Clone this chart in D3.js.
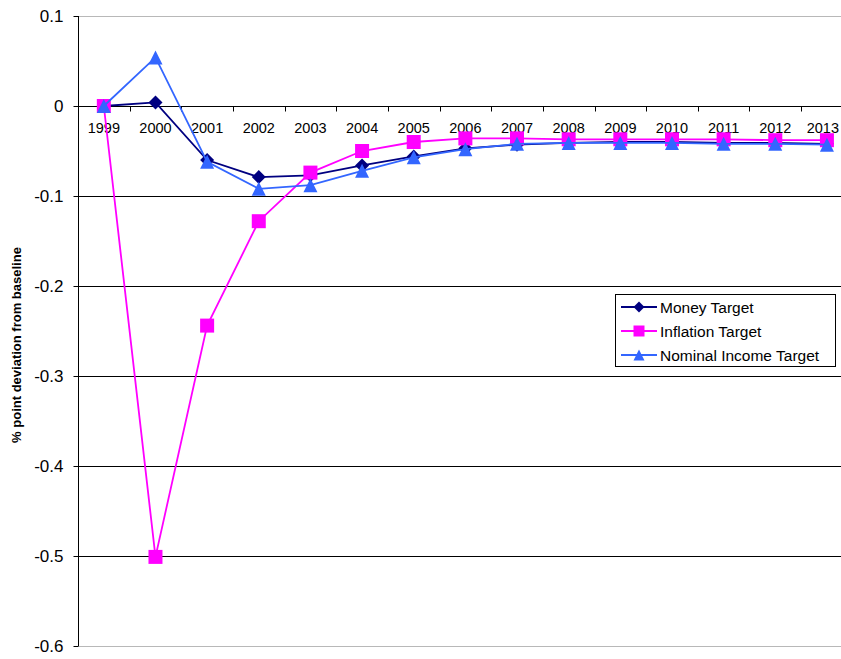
<!DOCTYPE html>
<html>
<head>
<meta charset="utf-8">
<script src="https://cdn.jsdelivr.net/npm/d3@7/dist/d3.min.js"></script>
<style>
  html, body { margin: 0; padding: 0; background: #fff; }
  svg { display: block; font-family: Arial, "Liberation Sans", sans-serif; }
</style>
</head>
<body>
<svg id="chart" width="841" height="659"></svg>
<script>
const years = ["1999","2000","2001","2002","2003","2004","2005","2006","2007","2008","2009","2010","2011","2012","2013"];
const moneyTarget = [0, 0.004, -0.060, -0.079, -0.077, -0.066, -0.056, -0.047, -0.043, -0.041, -0.040, -0.040, -0.041, -0.041, -0.042];
const inflationTarget = [0, -0.501, -0.244, -0.128, -0.074, -0.050, -0.040, -0.036, -0.036, -0.037, -0.037, -0.037, -0.037, -0.038, -0.038];
const nominalIncomeTarget = [0, 0.054, -0.062, -0.092, -0.088, -0.072, -0.057, -0.048, -0.042, -0.041, -0.041, -0.041, -0.042, -0.042, -0.043];
const yTicks = [0.1, 0, -0.1, -0.2, -0.3, -0.4, -0.5, -0.6];
const yTickLabels = ["0.1", "0", "-0.1", "-0.2", "-0.3", "-0.4", "-0.5", "-0.6"];
const seriesNames = ["Money Target", "Inflation Target", "Nominal Income Target"];
const yTitle = "% point deviation from baseline";

const series = [
  { name: seriesNames[0], values: moneyTarget, color: "#000080", marker: "diamond" },
  { name: seriesNames[1], values: inflationTarget, color: "#FF00FF", marker: "square" },
  { name: seriesNames[2], values: nominalIncomeTarget, color: "#3366FF", marker: "triangle" }
];

const W = 841;
const svg = d3.select("#chart");
const left = 78, bandW = 51.65;
const x = d3.scaleBand().domain(years).range([left, left + years.length * bandW]).padding(0);
const y = d3.scaleLinear().domain([-0.6, 0.1]).range([646, 16]);

// gridlines
svg.append("g").selectAll("line").data(yTicks.filter(v => v !== 0)).join("line")
  .attr("x1", left).attr("x2", W)
  .attr("y1", d => Math.round(y(d)) + 0.5).attr("y2", d => Math.round(y(d)) + 0.5)
  .attr("stroke", d => (d === 0.1 || d === -0.6) ? "#b8b8b8" : "#000")
  .attr("stroke-width", 1);

// y axis
const yAxis = d3.axisLeft(y).tickValues(yTicks).tickSize(5)
  .tickFormat((d, i) => yTickLabels[i]);
const gy = svg.append("g").attr("transform", `translate(${left + 0.5},0)`).call(yAxis);
gy.select(".domain").attr("d", `M0,${y(0.1)}V${y(-0.6)}`).attr("stroke", "#000");
gy.selectAll(".tick line").attr("stroke", "#000");
gy.selectAll(".tick text").attr("font-size", 17).attr("fill", "#000").attr("x", -15)
  .attr("font-family", "Arial, 'Liberation Sans', sans-serif");

// x axis at zero
const zeroY = Math.round(y(0)) + 0.5;
svg.append("line").attr("x1", left).attr("x2", W).attr("y1", zeroY).attr("y2", zeroY).attr("stroke", "#000");
svg.append("g").selectAll("line").data(years).join("line")
  .attr("x1", d => Math.round(x(d)) + 0.5).attr("x2", d => Math.round(x(d)) + 0.5)
  .attr("y1", zeroY).attr("y2", zeroY + 5).attr("stroke", "#000");
svg.append("g").selectAll("text").data(years).join("text")
  .attr("y", 133)
  .attr("font-size", 14.5).attr("fill", "#000")
  .text(d => d)
  .each(function(d) {
    const t = d3.select(this);
    const cx = x(d) + x.bandwidth() / 2;
    const w = this.getComputedTextLength();
    const xr = Math.min(cx + w / 2, W - 2);
    t.attr("x", xr).attr("text-anchor", "end");
  });

// y title
svg.append("text")
  .attr("transform", `translate(21,345) rotate(-90)`)
  .attr("text-anchor", "middle").attr("font-size", 13).attr("font-weight", "bold")
  .text(yTitle);

// marker paths
function markerPath(type, s) {
  if (type === "diamond") return `M0,${-s}L${s},0L0,${s}L${-s},0Z`;
  if (type === "square") return `M${-s},${-s}H${s}V${s}H${-s}Z`;
  return `M0,${-s}L${s},${s}L${-s},${s}Z`;
}
const markerSize = { diamond: 7, square: 7, triangle: 7 };

const line = d3.line().x((d, i) => x(years[i]) + x.bandwidth() / 2).y(d => y(d));
series.forEach(s => {
  const g = svg.append("g");
  g.append("path").datum(s.values).attr("d", line)
    .attr("fill", "none").attr("stroke", s.color).attr("stroke-width", 1.8);
  g.selectAll("path.m").data(s.values).join("path").attr("class", "m")
    .attr("transform", (d, i) => `translate(${x(years[i]) + x.bandwidth() / 2},${y(d)})`)
    .attr("d", markerPath(s.marker, markerSize[s.marker]))
    .attr("fill", s.color);
});

// legend
const lg = svg.append("g");
lg.append("rect").attr("x", 615.5).attr("y", 294.5).attr("width", 220).attr("height", 72)
  .attr("fill", "#fff").attr("stroke", "#000");
const rowY = [307, 331, 355];
series.forEach((s, i) => {
  lg.append("line").attr("x1", 621).attr("x2", 657).attr("y1", rowY[i]).attr("y2", rowY[i])
    .attr("stroke", s.color).attr("stroke-width", 2);
  lg.append("path").attr("transform", `translate(639,${rowY[i]})`)
    .attr("d", markerPath(s.marker, 5.5)).attr("fill", s.color);
  lg.append("text").attr("x", 660).attr("y", rowY[i] + 5.5).attr("font-size", 15.5)
    .attr("fill", "#000").text(s.name);
});
</script>
</body>
</html>
